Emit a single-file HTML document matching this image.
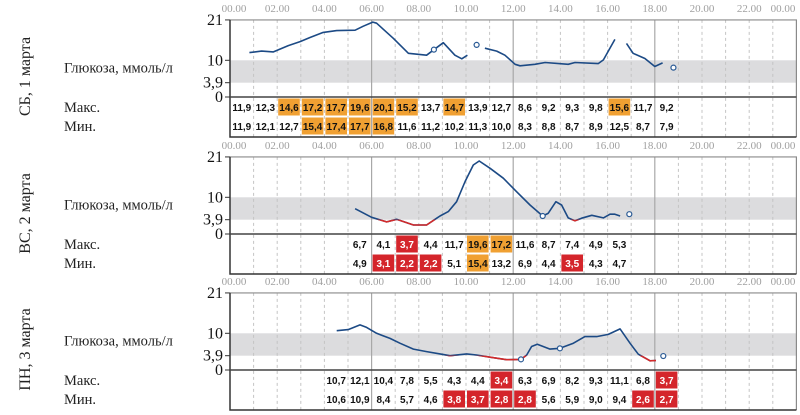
<!DOCTYPE html>
<html><head><meta charset="utf-8">
<style>
html,body{margin:0;padding:0;background:#fff;}
svg{display:block;}
</style></head>
<body>
<svg id="chart" width="800" height="415" viewBox="0 0 800 415" xmlns="http://www.w3.org/2000/svg"></svg>
<script>
// ---- data ----
const hourTickLabels = ["00.00","02.00","04.00","06.00","08.00","10.00","12.00","14.00","16.00","18.00","20.00","22.00","00.00"];
const yTickValues = [21, 10, 3.9, 0];
const yTickLabels = ["21","10","3,9","0"];
const dayLabels = ["СБ, 1 марта","ВС, 2 марта","ПН, 3 марта"];

// panel 1 (null = gap)
const p1Hours   = [0.82,1.34,1.84,2.47,2.97,3.39,3.95,4.52,5.3,5.65,6.05,6.21,6.92,7.56,8.33,8.64,9.04,9.53,9.82,10.06,null,10.8,11.3,11.65,12.08,12.29,12.92,13.35,14.33,14.62,15.6,15.82,16.31,null,16.8,17.08,17.58,18.0,18.33];
const p1Glucose = [12.1,12.5,12.3,14.0,15.1,16.2,17.6,18.1,18.2,19.3,20.4,20.1,16.0,11.9,11.4,12.9,14.8,11.4,10.4,11.4,null,13.3,12.5,11.4,8.9,8.5,8.9,9.4,8.9,9.4,9.1,10.1,15.7,null,14.6,11.9,10.5,8.3,9.3];
const p1MarkerHours = [8.64,10.45,18.79];
const p1MarkerValues = [12.9,14.2,8.0];
const p1TableStart = 0;
const p1Max = [11.9,12.3,14.6,17.2,17.7,19.6,20.1,15.2,13.7,14.7,13.9,12.7,8.6,9.2,9.3,9.8,15.6,11.7,9.2];
const p1Min = [11.9,12.1,12.7,15.4,17.4,17.7,16.8,11.6,11.2,10.2,11.3,10.0,8.3,8.8,8.7,8.9,12.5,8.7,7.9];

// panel 2
const p2Hours   = [5.3,6.0,6.64,7.06,7.77,8.33,8.76,8.9,9.25,9.6,9.96,10.31,10.56,11.02,11.58,12.15,12.71,13.25,13.48,13.81,14.05,14.33,14.62,14.9,15.33,15.82,16.1,16.31,16.53];
const p2Glucose = [6.9,4.55,3.3,4.0,2.45,2.45,4.3,4.9,6.1,8.8,14.3,18.8,19.9,17.9,15.2,11.5,7.9,4.9,5.6,8.8,7.9,4.4,3.6,4.3,5.1,4.4,5.4,5.4,4.9];
const p2MarkerHours = [13.25,16.92];
const p2MarkerValues = [4.9,5.4];
const p2TableStart = 5;
const p2Max = [6.7,4.1,3.7,4.4,11.7,19.6,17.2,11.6,8.7,7.4,4.9,5.3];
const p2Min = [4.9,3.1,2.2,2.2,5.1,15.4,13.2,6.9,4.4,3.5,4.3,4.7];

// panel 3
const p3Hours   = [4.52,5.01,5.51,5.79,6.21,6.78,7.2,7.77,8.33,8.9,9.32,10.03,10.45,11.02,11.72,12.33,12.57,12.78,13.02,13.56,13.98,14.55,15.04,15.54,16.03,16.53,16.95,17.3,17.8,18.05];
const p3Glucose = [10.7,11.0,12.3,11.6,10.0,8.6,7.3,5.7,5.0,4.4,3.9,4.4,4.1,3.5,2.8,2.9,4.1,6.4,7.0,5.7,5.9,7.3,9.1,9.1,9.7,11.2,7.3,4.3,2.5,2.6];
const p3MarkerHours = [12.33,13.98,18.36];
const p3MarkerValues = [2.9,5.9,3.8];
const p3TableStart = 4;
const p3Max = [10.7,12.1,10.4,7.8,5.5,4.3,4.4,3.4,6.3,6.9,8.2,9.3,11.1,6.8,3.7];
const p3Min = [10.6,10.9,8.4,5.7,4.6,3.8,3.7,2.8,2.8,5.6,5.9,9.0,9.4,2.6,2.7];

const panels = [
  {hours:p1Hours, vals:p1Glucose, mh:p1MarkerHours, mv:p1MarkerValues, start:p1TableStart, max:p1Max, min:p1Min},
  {hours:p2Hours, vals:p2Glucose, mh:p2MarkerHours, mv:p2MarkerValues, start:p2TableStart, max:p2Max, min:p2Min},
  {hours:p3Hours, vals:p3Glucose, mh:p3MarkerHours, mv:p3MarkerValues, start:p3TableStart, max:p3Max, min:p3Min}
];

// ---- layout ----
const X0 = 230, HW = 23.6, XR = X0 + 24*HW;
const zeroYs = [97, 234, 370];
const PXV = 3.67;
const LOW = 3.9, HIGH = 14;
const svg = document.getElementById('chart');
const NS = 'http://www.w3.org/2000/svg';
function xh(h){ return X0 + h*HW; }
function mk(tag, attrs, parent){
  const e = document.createElementNS(NS, tag);
  for (const k in attrs) e.setAttribute(k, attrs[k]);
  (parent||svg).appendChild(e);
  return e;
}
function fmt(v){ return v.toFixed(1).replace('.', ','); }

panels.forEach((p, i) => {
  const Z = zeroYs[i];
  const yv = v => Z - v*PXV;
  const top = yv(21), bot = Z + 40;
  const g = mk('g', {});
  
  

  // band
  const band = mk('rect', {x:X0, y:yv(10), width:XR-X0, height:yv(LOW)-yv(10), fill:'#dcdcde'}, g);
  
  

  // hour grid lines
  for (let h = 1; h < 24; h++) {
    const solid = h % 6 === 0;
    const l = mk('line', {x1:xh(h), x2:xh(h), y1:top, y2:bot,
      stroke: solid ? '#a8a8a8' : '#c4c4c4', 'stroke-width': solid ? 1.2 : 1,
      'stroke-dasharray': solid ? 'none' : '3,3'}, g);
    
    
  }

  // hour labels
  hourTickLabels.forEach((t, k) => {
    let x = xh(k*2);
    if (k === 0) x = 234;
    if (k === hourTickLabels.length-1) x = 783;
    const tx = mk('text', {x:x, y:top-8, 'text-anchor':'middle', 'font-family':'Liberation Serif, serif', 'font-size':11, fill:'#a0a0a0'}, g);
    tx.textContent = t;
    
    
  });

  // table cells
  const rows = [p.max, p.min];
  rows.forEach((arr, r) => {
    const cy = Z + 10 + r*19;
    arr.forEach((v, k) => {
      const h = p.start + k;
      const cx = xh(h) + HW/2;
      let fill = null, col = '#111';
      if (v >= HIGH) fill = '#f0a032';
      if (v < LOW) { fill = '#d4252b'; col = '#fff'; }
      if (fill) {
        const rc = mk('rect', {x:xh(h)+1, y:cy-8.5, width:HW-2, height:17, fill:fill}, g);
        
        
      }
      const tx = mk('text', {x:cx, y:cy+4, 'text-anchor':'middle', 'font-family':'Liberation Sans, sans-serif', 'font-size':10, 'font-weight':'bold', fill:col}, g);
      tx.textContent = fmt(v);
      
      
    });
  });

  // frame
  const fr = mk('path', {d:`M${X0},${top} H${XR} V${bot}`, fill:'none', stroke:'#8a8a8a', 'stroke-width':1.2}, g);
  
  
  const ax = mk('path', {d:`M${X0},${top} V${bot} H${XR}`, fill:'none', stroke:'#333', 'stroke-width':1.5}, g);
  
  
  const zl = mk('line', {x1:X0, x2:XR, y1:Z, y2:Z, stroke:'#444', 'stroke-width':1.5}, g);
  
  

  // y ticks
  yTickValues.forEach((v, k) => {
    const y = yv(v);
    const t = mk('line', {x1:X0-5, x2:X0, y1:y, y2:y, stroke:'#333', 'stroke-width':1}, g);
    
    
    const tx = mk('text', {x:X0-7, y:y+5, 'text-anchor':'end', 'font-family':'Liberation Serif, serif', 'font-size':16, fill:'#111'}, g);
    tx.textContent = yTickLabels[k];
    
    
  });

  // curve path with gaps
  let d = '', pen = false;
  p.hours.forEach((h, k) => {
    const v = p.vals[k];
    if (h === null || v === null) { pen = false; return; }
    d += (pen ? 'L' : 'M') + xh(h).toFixed(1) + ',' + yv(v).toFixed(1) + ' ';
    pen = true;
  });
  const cid = 'lowclip' + i;
  const cp = mk('clipPath', {id:cid}, g);
  mk('rect', {x:X0, y:yv(LOW), width:XR-X0, height:60}, cp);
  const line = mk('path', {d:d, fill:'none', stroke:'#1c4a85', 'stroke-width':1.6, 'stroke-linejoin':'round'}, g);
  
  
  const low = mk('path', {d:d, fill:'none', stroke:'#d42a2a', 'stroke-width':1.6, 'clip-path':`url(#${cid})`}, g);
  
  

  p.mh.forEach((h, k) => {
    const c = mk('circle', {cx:xh(h), cy:yv(p.mv[k]), r:2.5, fill:'#fff', stroke:'#2a5a95', 'stroke-width':1.2}, g);
    
    
  });

  // left labels
  const midY = (top + Z) / 2 + 12;
  const dl = mk('text', {x:0, y:0, 'text-anchor':'middle', 'font-family':'Liberation Serif, serif', 'font-size':16, fill:'#222',
    transform:`translate(30,${(top+bot)/2 - 2}) rotate(-90)`}, g);
  dl.textContent = dayLabels[i];
  
  
  const gl = mk('text', {x:64, y:yv(8)+5, 'font-family':'Liberation Serif, serif', 'font-size':14.5, fill:'#222'}, g);
  gl.textContent = 'Глюкоза, ммоль/л';
  
  
  const ml = mk('text', {x:64, y:Z+15, 'font-family':'Liberation Serif, serif', 'font-size':14.5, fill:'#222'}, g);
  ml.textContent = 'Макс.';
  
  
  const nl = mk('text', {x:64, y:Z+34, 'font-family':'Liberation Serif, serif', 'font-size':14.5, fill:'#222'}, g);
  nl.textContent = 'Мин.';
  
  
});
</script>
</body></html>
